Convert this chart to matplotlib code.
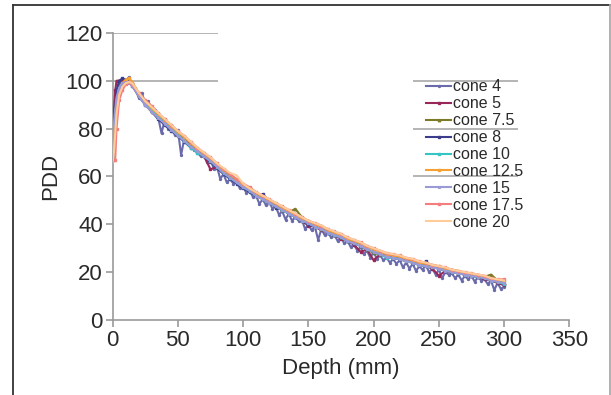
import matplotlib.pyplot as plt
from matplotlib.lines import Line2D

plt.rcParams['font.family'] = ['Liberation Sans', 'DejaVu Sans']

# depth grid shared by the smoother curves (mm)
depth = [0, 1, 2, 3, 5, 7.5, 10, 12.5, 15,
         20, 25, 30, 35, 40, 45, 50, 55, 60, 65,
         70, 75, 80, 85, 90, 95, 100, 105, 110, 115,
         120, 125, 130, 135, 140, 145, 150, 155, 160, 165,
         170, 175, 180, 185, 190, 195, 200, 205, 210, 215,
         220, 225, 230, 235, 240, 245, 250, 255, 260, 265,
         270, 275, 280, 285, 290, 295, 300]

# cone 4 is sampled finer (2.5 mm)
depth4 = [0, 2.5, 5, 7.5, 10, 12.5, 15, 17.5, 20, 22.5,
          25, 27.5, 30, 32.5, 35, 37.5, 40, 42.5, 45, 47.5,
          50, 52.5, 55, 57.5, 60, 62.5, 65, 67.5, 70, 72.5,
          75, 77.5, 80, 82.5, 85, 87.5, 90, 92.5, 95, 97.5,
          100, 102.5, 105, 107.5, 110, 112.5, 115, 117.5, 120, 122.5,
          125, 127.5, 130, 132.5, 135, 137.5, 140, 142.5, 145, 147.5,
          150, 152.5, 155, 157.5, 160, 162.5, 165, 167.5, 170, 172.5,
          175, 177.5, 180, 182.5, 185, 187.5, 190, 192.5, 195, 197.5,
          200, 202.5, 205, 207.5, 210, 212.5, 215, 217.5, 220, 222.5,
          225, 227.5, 230, 232.5, 235, 237.5, 240, 242.5, 245, 247.5,
          250, 252.5, 255, 257.5, 260, 262.5, 265, 267.5, 270, 272.5,
          275, 277.5, 280, 282.5, 285, 287.5, 290, 292.5, 295, 297.5,
          300]

cone4 = [72, 88, 99, 100.5, 100, 101.5, 99, 97, 93, 95,
         90, 91.5, 87, 88, 84.5, 78, 84, 80, 81.5, 77.5,
         79.5, 69, 76, 74, 73, 71, 70, 68.5, 69, 66,
         67.5, 63, 64, 59, 61, 57.5, 59, 57, 58, 55,
         56, 53, 54, 51.5, 52, 48.5, 50.5, 48, 49.5, 46.5,
         47.5, 44, 45.5, 42, 44.5, 41.5, 43, 41.5, 42, 38,
         40, 37.5, 39, 33.5, 38, 35.5, 36.5, 34.5, 35.5, 33,
         34.5, 32, 33, 30.5, 31.5, 29, 30.5, 27.5, 29, 26,
         28.5, 25.5, 27, 25, 26, 24, 25.5, 23.5, 25, 22,
         24, 21.5, 23.5, 20.5, 22.5, 21, 23, 20, 21.5, 19,
         21, 17.5, 20, 19, 19.5, 17.5, 19, 16.5, 18.5, 17,
         18.5, 16, 18, 16.5, 17, 15, 16.5, 12.5, 15.5, 13,
         14]

cone5 = [78, 88, 96, 100, 100, 100.5, 100, 99.5, 98.5,
         94, 90.5, 87.5, 86, 83, 80, 77.5, 75.5, 73, 70.5,
         68.5, 63, 64, 61.5, 59.5, 57.5, 55.5, 54, 52, 50.5,
         49, 47.5, 46, 44.5, 43, 41.5, 39.5, 39, 37.5, 36.5,
         35.5, 34, 33, 31.5, 28.5, 29.5, 25, 27.5, 26.5, 26,
         25.5, 24.5, 24, 23, 22.5, 21.5, 18.5, 20.5, 20, 19.5,
         19, 18.5, 18, 17, 16.5, 15.5, 14.5]

cone7_5 = [70, 78, 86, 92, 96, 98.5, 99.5, 99.5, 98.5,
           94.5, 91, 88, 85, 82.5, 79.5, 77.5, 75.5, 73, 71,
           69, 67, 64.5, 62, 60, 58, 56, 54, 52.5, 51,
           49.5, 48, 46, 45, 46.5, 43, 41, 39.5, 38, 37,
           35.5, 34.5, 33.5, 32.5, 31, 29.5, 28, 27.5, 27, 26.5,
           26, 25.5, 24.5, 24, 23, 22.5, 22.5, 21.5, 21, 20,
           19.5, 19, 18.5, 18, 19, 16.5, 15.5]

cone8 = [68, 76, 88, 96, 100, 101, 100.5, 99.5, 98,
         93.5, 90, 87, 84, 81.5, 79, 77, 74.5, 72, 70.5,
         68.5, 66, 63.5, 61, 59, 57, 55, 53.5, 52, 52.5,
         50, 47, 46, 44.5, 43, 41.5, 40, 39, 38, 36.5,
         35.5, 34.5, 33, 32, 31, 29.5, 28.5, 27.5, 26.5, 26,
         25.5, 25, 24, 23, 24.5, 22, 21.5, 20.5, 20, 19.5,
         19, 18.5, 18, 17.5, 16.5, 16, 15]

cone10 = [68, 74, 84, 92, 96.5, 99, 99.5, 99.5, 98.5,
          94, 90.5, 87.5, 85, 82.5, 80, 77.5, 75, 72, 70,
          68.5, 66.5, 64, 61.5, 59.5, 57.5, 55.5, 54, 52, 50.5,
          49, 47.5, 46, 44.5, 43, 41.5, 40.5, 39, 38, 36.5,
          35.5, 34.5, 33, 32, 31, 29.5, 28.5, 27.5, 26, 26,
          25.5, 24.5, 24, 23, 22.5, 22, 21.5, 21, 20, 19.5,
          19, 18.5, 18, 17.5, 16.5, 16, 15]

cone12_5 = [67, 72, 82, 90, 96, 99, 100.5, 101, 99.5,
            95, 91.5, 88.5, 86, 83.5, 81, 78.5, 76.5, 74, 71.5,
            69.5, 67.5, 65, 62.5, 61, 58.5, 56.5, 55, 53, 51.5,
            50, 48.5, 47, 45.5, 44, 42.5, 41.5, 40, 39, 37.5,
            36.5, 35.5, 34, 33, 32, 30.5, 29.5, 28.5, 27.5, 27,
            26.5, 25.5, 25, 24, 23.5, 23, 22.5, 21.5, 21, 20.5,
            19.5, 19, 18.5, 18, 17, 16.5, 16.5]

cone15 = [75, 82, 88, 93, 97, 99, 99.5, 99, 98,
          93.5, 90, 87, 84.5, 82, 79.5, 77, 75, 72.5, 70.5,
          68.5, 66.5, 64, 61.5, 59.5, 57.5, 55.5, 54, 52, 50.5,
          49, 47.5, 46, 44.5, 43, 41.5, 40.5, 39, 38, 36.5,
          35.5, 34.5, 33, 32, 31, 29.5, 28.5, 27.5, 26.5, 26,
          25.5, 24.5, 24, 23, 22.5, 22, 21.5, 20.5, 20, 19.5,
          19, 18.5, 18, 17.5, 16.5, 16, 15.5]

cone17_5 = [67, 67, 67, 80, 92, 96, 98.5, 99.5, 98.5,
            95, 92, 89.5, 86.5, 84, 81.5, 79, 77, 74.5, 72,
            70, 68, 65.5, 63, 61, 59, 57, 55.5, 53.5, 52,
            50.5, 49, 47.5, 46, 44.5, 43, 41.5, 40.5, 39.5, 38,
            37, 36, 34.5, 33.5, 32.5, 31, 30, 29, 28, 27.5,
            27, 26, 25.5, 24.5, 24, 23, 22.5, 22, 21, 20.5,
            20, 19.5, 19, 18.5, 17.5, 17, 17]

cone20 = [66, 70, 78, 86, 94, 97.5, 99, 99.5, 99,
          95, 91.5, 89, 86.5, 84, 81.5, 79, 77, 74.5, 72,
          70, 68, 65.5, 63.5, 61.5, 60.5, 57, 55, 53.5, 52,
          50.5, 49, 47.5, 46, 44.5, 43, 41.5, 40.5, 39.5, 38,
          37, 36, 34.5, 33.5, 32.5, 31, 30, 29, 28, 27.5,
          27, 26, 25.5, 24.5, 24, 23, 22.5, 22, 21, 20.5,
          20, 19.5, 19, 18.5, 17.5, 17, 16.5]

labels = ['cone 4', 'cone 5', 'cone 7.5', 'cone 8', 'cone 10',
          'cone 12.5', 'cone 15', 'cone 17.5', 'cone 20']
colors = ['#6b6bab', '#98285a', '#7a7a28', '#3c3c8c', '#35c4c4',
          '#f5a033', '#9a9ad6', '#f47e7e', '#ffcc99']
markers = ['.', 's', '^', 's', 's', 's', 'x', 's', '']
series = [cone4, cone5, cone7_5, cone8, cone10, cone12_5, cone15, cone17_5, cone20]

fig = plt.figure(figsize=(6.11, 3.95), dpi=100)
ax = fig.add_axes([0.1843, 0.1899, 0.7475, 0.7266])

# partial gridlines as seen in the original
grid_c = '#a8a8a8'
ax.hlines([120, 100], 0, 81, color=grid_c, lw=1.2, zorder=0)
ax.hlines([100, 80, 60], 230.5, 311, color=grid_c, lw=1.2, zorder=0)

for i, (lab, col, mk, vals) in enumerate(zip(labels, colors, markers, series)):
    x = depth4 if i == 0 else depth
    ax.plot(x, vals, color=col, lw=1.5, marker=mk, markersize=2.8 if mk == '.' else 1.8,
            label=lab, zorder=2 + i)

ax.set_xlim(0, 350)
ax.set_ylim(0, 120)
ax.set_xticks([0, 50, 100, 150, 200, 250, 300, 350])
ax.set_yticks([0, 20, 40, 60, 80, 100, 120])
for s in ['top', 'right']:
    ax.spines[s].set_visible(False)
for s in ['left', 'bottom']:
    ax.spines[s].set_color('#999999')
    ax.spines[s].set_linewidth(1.2)
ax.tick_params(colors='#999999', width=1.2, length=5, labelsize=16,
               labelcolor='#2a2a2a', pad=2)
ax.set_xlabel('Depth (mm)', fontsize=16, color='#2a2a2a', labelpad=5)
ax.set_ylabel('PDD', fontsize=16, color='#2a2a2a', labelpad=3)

leg = ax.legend(loc='upper left', bbox_to_anchor=(0.686, 0.838), frameon=False,
                fontsize=11.5, borderpad=0, borderaxespad=0, handlelength=1.6,
                handletextpad=0.1, labelspacing=0.12)
for t in leg.get_texts():
    t.set_color('#2a2a2a')

# outer frame
fig.add_artist(Line2D([13 / 611, 610 / 611], [1 - 5 / 395, 1 - 5 / 395],
                      transform=fig.transFigure, color='#333333', lw=1.3))
fig.add_artist(Line2D([13 / 611, 13 / 611], [0, 1 - 5 / 395],
                      transform=fig.transFigure, color='#333333', lw=1.3))
fig.add_artist(Line2D([610 / 611, 610 / 611], [0, 1 - 5 / 395],
                      transform=fig.transFigure, color='#aaaaaa', lw=1.3))

fig.savefig('out.png', dpi=100)
